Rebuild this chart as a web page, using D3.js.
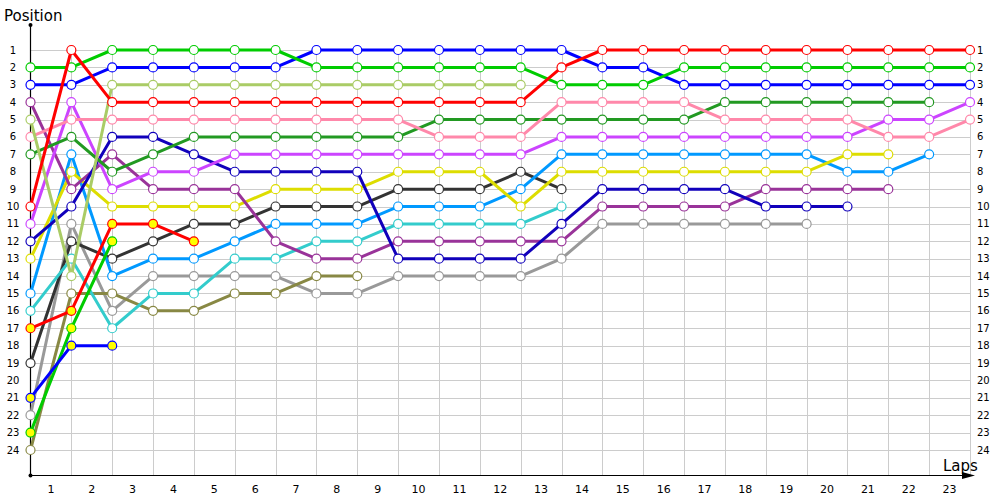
<!DOCTYPE html>
<html>
<head>
<meta charset="utf-8">
<script src="https://cdn.jsdelivr.net/npm/d3@7"></script>
<style>
  body { margin: 0; background: #fff; }
  svg { display: block; }
</style>
</head>
<body>
<div class="vis-laps"></div>
<script>
// lap numbers 0 (grid) .. 23
const laps = d3.range(0, 24);
const positions = d3.range(1, 25);

// position on each lap, starting at lap 0
const redPos       = [10,1,4,4,4,4,4,4,4,4,4,4,4,2,1,1,1,1,1,1,1,1,1,1];
const limePos      = [2,2,1,1,1,1,1,2,2,2,2,2,2,3,3,3,2,2,2,2,2,2,2,2];
const bluePos      = [3,3,2,2,2,2,2,1,1,1,1,1,1,1,2,2,3,3,3,3,3,3,3,3];
const lightGreenPos= [5,14,3,3,3,3,3,3,3,3,3,3,3];
const pinkPos      = [6,5,5,5,5,5,5,5,5,5,6,6,6,4,4,4,4,5,5,5,5,6,6,5];
const darkGreenPos = [7,6,8,7,6,6,6,6,6,6,5,5,5,5,5,5,5,4,4,4,4,4,4];
const violetPos    = [11,4,9,8,8,7,7,7,7,7,7,7,7,6,6,6,6,6,6,6,6,5,5,4];
const purplePos    = [4,9,7,9,9,9,12,13,13,12,12,12,12,12,10,10,10,10,9,9,9,9];
const navyPos      = [12,10,6,6,7,8,8,8,8,13,13,13,13,11,9,9,9,9,10,10,10];
const yellowPos    = [13,8,10,10,10,10,9,9,9,8,8,8,10,8,8,8,8,8,8,8,7,7];
const lightBluePos = [15,7,14,13,13,12,11,11,11,10,10,10,9,7,7,7,7,7,7,7,8,8,7];
const cyanPos      = [16,13,17,15,15,13,13,12,12,11,11,11,11,10];
const red2Pos      = [17,16,11,11,12];
const blackPos     = [19,12,13,12,11,11,10,10,10,9,9,9,8,9];
const lime2Pos     = [23,17,12];
const blue2Pos     = [21,18,18];
const greyPos      = [22,11,16,14,14,14,14,15,15,14,14,14,14,13,11,11,11,11,11,11];
const olivePos     = [24,15,15,16,16,15,15,14,14];

const cars = [
    {pos: greyPos,       color: "#999999", fill: "#fff"},
    {pos: olivePos,      color: "#888844", fill: "#fff"},
    {pos: blackPos,      color: "#333333", fill: "#fff"},
    {pos: cyanPos,       color: "#33cccc", fill: "#fff"},
    {pos: lightBluePos,  color: "#0099ff", fill: "#fff"},
    {pos: yellowPos,     color: "#dddd00", fill: "#fff"},
    {pos: purplePos,     color: "#993399", fill: "#fff"},
    {pos: navyPos,       color: "#1100bb", fill: "#fff"},
    {pos: violetPos,     color: "#cc44ff", fill: "#fff"},
    {pos: darkGreenPos,  color: "#229922", fill: "#fff"},
    {pos: pinkPos,       color: "#ff88aa", fill: "#fff"},
    {pos: lightGreenPos, color: "#aacc66", fill: "#fff"},
    {pos: red2Pos,       color: "#ff0000", fill: "#ffff00"},
    {pos: lime2Pos,      color: "#00cc00", fill: "#ffff00"},
    {pos: blue2Pos,      color: "#0000ff", fill: "#ffff00"},
    {pos: bluePos,       color: "#0000ff", fill: "#fff"},
    {pos: limePos,       color: "#00cc00", fill: "#fff"},
    {pos: redPos,        color: "#ff0000", fill: "#fff"}
];

const width = 1000, height = 500;
const svg = d3.select(".vis-laps").append("svg")
    .attr("width", width)
    .attr("height", height)
    .style("font-family", "'DejaVu Sans', Verdana, sans-serif");

const x = d3.scaleLinear().domain([0, 23]).range([30.5, 970]);
const y = d3.scaleLinear().domain([1, 24]).range([50, 450]);
const yTop = 45, yBottom = 475.5;

// grid
const grid = svg.append("g").attr("stroke", "#cccccc").attr("stroke-width", 1).attr("shape-rendering", "crispEdges");
grid.selectAll(".h").data(positions).enter().append("line")
    .attr("x1", x(0)).attr("x2", x(23))
    .attr("y1", d => Math.round(y(d)) + 0.5).attr("y2", d => Math.round(y(d)) + 0.5);
grid.selectAll(".v").data(laps.slice(1)).enter().append("line")
    .attr("x1", d => Math.round(x(d)) + 0.5).attr("x2", d => Math.round(x(d)) + 0.5)
    .attr("y1", yTop).attr("y2", yBottom);

// axes
svg.append("line").attr("x1", 30.5).attr("x2", 30.5).attr("y1", 25).attr("y2", yBottom)
    .attr("stroke", "#000").attr("stroke-width", 1.2);
svg.append("line").attr("x1", 30.5).attr("x2", 968).attr("y1", yBottom).attr("y2", yBottom)
    .attr("stroke", "#000").attr("stroke-width", 1.2);
svg.append("path").attr("d", `M975,${yBottom} L962,${yBottom - 3.5} L962,${yBottom + 3.5} Z`).attr("fill", "#000");
svg.append("circle").attr("cx", 30.5).attr("cy", 25).attr("r", 2).attr("fill", "#000");
svg.append("circle").attr("cx", 30.5).attr("cy", yBottom).attr("r", 2).attr("fill", "#000");

// labels
svg.append("g").selectAll("text").data(positions).enter().append("text")
    .attr("x", 13).attr("y", d => y(d)).attr("dy", "0.35em")
    .attr("text-anchor", "middle").attr("font-size", 10).attr("fill", "#000")
    .text(d => d);
svg.append("g").selectAll("text").data(positions).enter().append("text")
    .attr("x", 977).attr("y", d => y(d)).attr("dy", "0.35em")
    .attr("font-size", 10).attr("fill", "#000")
    .text(d => d);
svg.append("g").selectAll("text").data(laps.slice(1)).enter().append("text")
    .attr("x", d => x(d - 0.5)).attr("y", 493)
    .attr("text-anchor", "middle").attr("font-size", 11).attr("fill", "#000")
    .text(d => d);

svg.append("text").attr("x", 4).attr("y", 21).attr("font-size", 15).text("Position");
svg.append("text").attr("x", 943).attr("y", 471).attr("font-size", 15).text("Laps");

// lines and markers
const line = d3.line().x((d, i) => x(i)).y(d => y(d));
const carG = svg.append("g").selectAll("g").data(cars).enter().append("g");
carG.append("path")
    .attr("d", d => line(d.pos))
    .attr("fill", "none")
    .attr("stroke", d => d.color)
    .attr("stroke-width", 3)
    .attr("stroke-linejoin", "round");
carG.each(function (c) {
    d3.select(this).selectAll("circle").data(c.pos).enter().append("circle")
        .attr("cx", (d, i) => x(i))
        .attr("cy", d => y(d))
        .attr("r", 4.5)
        .attr("fill", c.fill)
        .attr("stroke", c.color)
        .attr("stroke-width", 1.2);
});
</script>
</body>
</html>
